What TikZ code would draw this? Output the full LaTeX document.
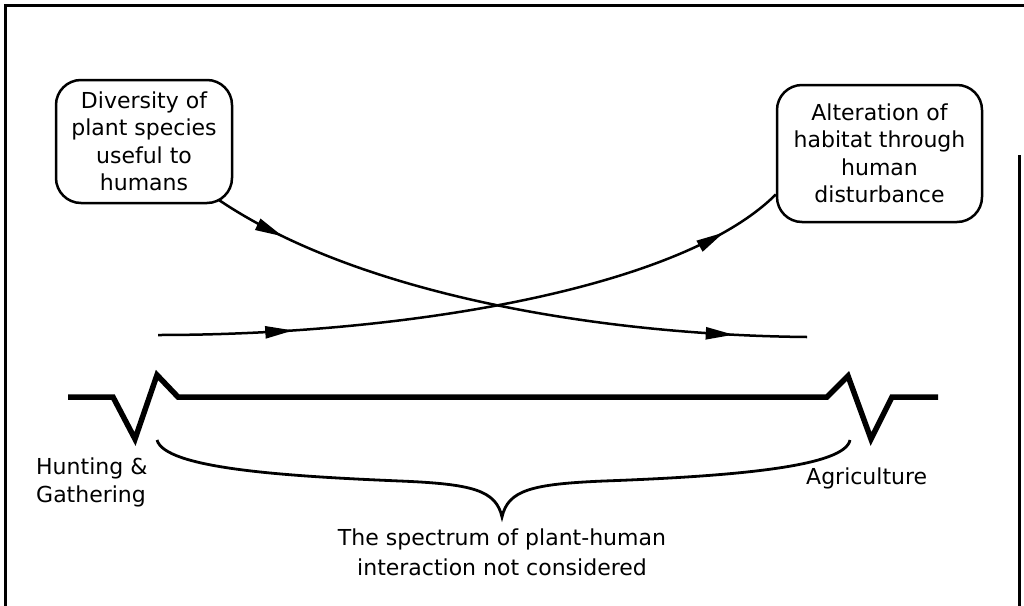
\documentclass[tikz,border=0pt]{standalone}
\usepackage{fontspec}
\setmainfont{DejaVu Sans}
\usetikzlibrary{arrows.meta,decorations.markings}
\tikzset{fhead/.tip={Triangle[length=28pt,width=12pt]}}
\begin{document}
\begin{tikzpicture}[x=1pt,y=-1pt,
  txt/.style={font=\fontsize{22}{27}\selectfont, inner sep=0pt},
  roundbox/.style={draw, line width=2.5pt, rounded corners=25pt, align=center, inner sep=0pt, font=\fontsize{22}{27.5}\selectfont},
  flow/.style={line width=2.5pt, postaction={decorate}},
  breakline/.style={line width=5.5pt, line join=miter, miter limit=10},
  bracestyle/.style={line width=2.8pt},
  framestyle/.style={line width=3pt}]
\useasboundingbox (0,0) rectangle (1024,605);
\fill[white] (0,0) rectangle (1024,605);
% frame
\draw[framestyle] (5,610) -- (5,5) -- (1024,5);
\draw[framestyle] (1019,155) -- (1019,610);
% boxes
\node[roundbox, minimum width=176pt, minimum height=123pt] (b1) at (144,141.5)
  {Diversity of\\plant species\\useful to\\humans};
\node[roundbox, minimum width=205pt, minimum height=137pt] (b2) at (879.5,153.5)
  {Alteration of\\habitat through\\human\\disturbance};
% free ends
\coordinate (a1) at ([xshift=-14pt,yshift=4pt]b1.south east);
\coordinate (aend) at (807,337);
\coordinate (bstart) at (158,335);
\coordinate (b2in) at ([yshift=-41pt]b2.west);
% curved arrows
\draw[flow, decoration={markings,
    mark=at position 0.12 with {\arrow{fhead}},
    mark=at position 0.88 with {\arrow{fhead}}}]
  (a1) .. controls (360,295) and (600,335) .. (aend);
\draw[flow, decoration={markings,
    mark=at position 0.21 with {\arrow{fhead}},
    mark=at position 0.90 with {\arrow{fhead}}}]
  (bstart) .. controls (400,335) and (680,290) .. (b2in);
% broken time line
\draw[breakline] (68,397) -- (113,397) -- (135,439) -- (157,375) -- (178,397)
  -- (827,397) -- (848,376) -- (871,439) -- (892,397) -- (938,397);
% brace
\draw[bracestyle] (157,440) .. controls (165,468) and (280,476) .. (400,481)
  .. controls (472,484) and (496,490) .. (502,517)
  .. controls (508,490) and (532,484) .. (604,481)
  .. controls (740,476) and (845,466) .. (850,440);
% labels
\node[txt, anchor=west, align=left, font=\fontsize{22}{28}\selectfont] (hg) at (36,482) {Hunting \&\\Gathering};
\node[txt, anchor=west] (ag) at (806,478) {Agriculture};
\node[txt, align=center, font=\fontsize{22}{30}\selectfont] (sp) at (502,552) {The spectrum of plant-human\\interaction not considered};
\end{tikzpicture}
\end{document}
